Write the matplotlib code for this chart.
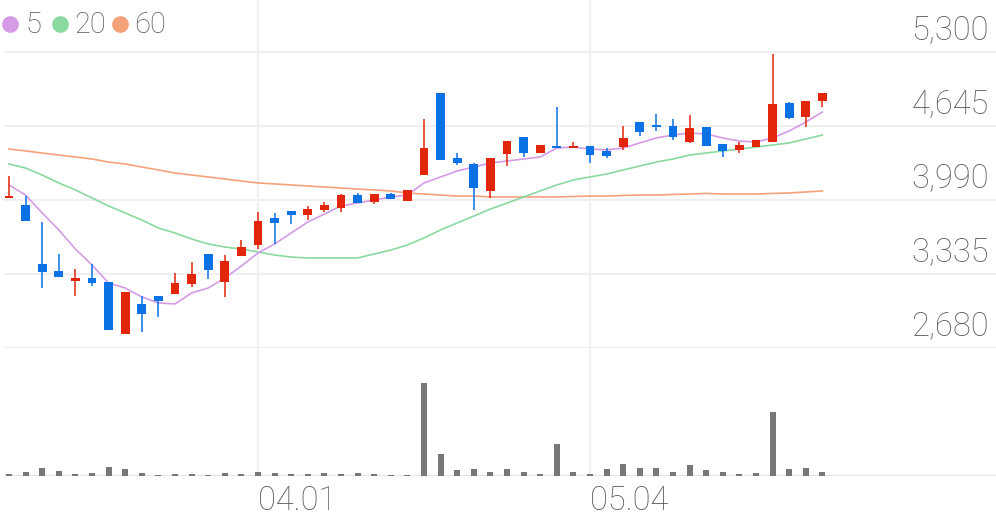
#== Candle chart with MA 5/20/60 and volume ==#

import matplotlib
matplotlib.use('Agg')
from matplotlib import pyplot as plt

#== Data ==#
opens = [4015, 3945, 3424, 3362, 3273, 3300, 3264, 2804, 3070, 3140,
         3158, 3247, 3512, 3264, 3494, 3592, 3831, 3893, 3857, 3902,
         3919, 4034, 3972, 4043, 3981, 4211, 4937, 4362, 4309, 4070,
         4397, 4548, 4406, 4468, 4450, 4468, 4424, 4459, 4680, 4654,
         4645, 4503, 4636, 4486, 4433, 4459, 4503, 4849, 4725, 4866]
highs = [4205, 4025, 3795, 3512, 3380, 3424, 3264, 3176, 3140, 3140,
         3344, 3441, 3512, 3503, 3636, 3884, 3875, 3893, 3937, 3972,
         4043, 4052, 4043, 4052, 4079, 4707, 4937, 4406, 4318, 4362,
         4512, 4548, 4477, 4813, 4503, 4468, 4450, 4645, 4680, 4751,
         4707, 4742, 4636, 4486, 4503, 4521, 5282, 4857, 4866, 4937]
lows = [4010, 3804, 3211, 3309, 3140, 3229, 2839, 2804, 2822, 2955,
        3158, 3220, 3291, 3132, 3494, 3556, 3601, 3778, 3813, 3884,
        3884, 3963, 3955, 3999, 3981, 4211, 4344, 4300, 3902, 4008,
        4291, 4371, 4406, 4450, 4450, 4318, 4362, 4433, 4557, 4601,
        4521, 4495, 4468, 4371, 4406, 4459, 4503, 4707, 4636, 4813]
closes = [4025, 3804, 3353, 3309, 3300, 3255, 2839, 3176, 2981, 3096,
          3255, 3335, 3370, 3450, 3574, 3804, 3787, 3857, 3910, 3946,
          4034, 3963, 4043, 3999, 4079, 4450, 4344, 4318, 4096, 4362,
          4512, 4406, 4477, 4450, 4468, 4388, 4380, 4539, 4592, 4636,
          4548, 4627, 4468, 4424, 4477, 4521, 4840, 4716, 4866, 4937]
volumes = [20000, 40000, 80000, 50000, 20000, 30000, 90000, 70000, 30000, 15000,
           20000, 20000, 15000, 30000, 25000, 40000, 35000, 20000, 20000, 30000,
           25000, 35000, 25000, 15000, 10000, 930000, 220000, 60000, 70000, 45000,
           75000, 45000, 25000, 320000, 45000, 25000, 75000, 120000, 85000, 80000,
           45000, 110000, 60000, 45000, 25000, 30000, 640000, 75000, 80000, 45000]
ma5 = [4123, 4034, 3875, 3725, 3556, 3415, 3255, 3211, 3132, 3078,
       3070, 3167, 3211, 3300, 3406, 3521, 3601, 3698, 3795, 3866,
       3937, 3963, 3990, 4017, 4034, 4141, 4194, 4247, 4282, 4318,
       4335, 4353, 4371, 4450, 4459, 4441, 4433, 4450, 4495, 4539,
       4565, 4583, 4574, 4539, 4512, 4503, 4539, 4601, 4680, 4769]
ma20 = [4309, 4273, 4211, 4141, 4079, 4008, 3937, 3875, 3813, 3742,
        3698, 3645, 3601, 3574, 3556, 3530, 3503, 3485, 3477, 3477,
        3477, 3477, 3512, 3547, 3592, 3654, 3725, 3787, 3848, 3910,
        3963, 4017, 4070, 4123, 4167, 4194, 4220, 4256, 4291, 4326,
        4353, 4388, 4406, 4424, 4441, 4459, 4477, 4495, 4530, 4565]
ma60 = [4441, 4424, 4406, 4388, 4371, 4353, 4326, 4309, 4282, 4256,
        4229, 4211, 4194, 4176, 4158, 4141, 4132, 4123, 4114, 4105,
        4096, 4087, 4079, 4070, 4052, 4043, 4034, 4025, 4025, 4017,
        4017, 4017, 4017, 4017, 4021, 4025, 4025, 4030, 4034, 4034,
        4039, 4043, 4048, 4043, 4043, 4043, 4048, 4052, 4061, 4070]
x_ticks = [15, 35]
x_labels = ['04.01', '05.04']
y_ticks = [5300, 4645, 3990, 3335, 2680]
y_labels = ['5,300', '4,645', '3,990', '3,335', '2,680']

#== Styles ==#
RED = '#e1260b'
BLUE = '#0b72e6'
GRID = '#efefef'
TXT = '#5c5c5c'
plt.rcParams['font.family'] = ['Roboto', 'DejaVu Sans']

W, H = 996, 519
fig = plt.figure(figsize=(W / 100, H / 100), dpi=100)
ax = fig.add_axes([4 / W, (H - 348) / H, 992 / W, 348 / H])
axv = fig.add_axes([4 / W, (H - 476) / H, 992 / W, 128 / H])

n = len(closes)
xlim = (-5 / 16.6, 987 / 16.6)

#== Price panel ==#
for i in range(n):
    o, c = opens[i], closes[i]
    col = RED if c >= o else BLUE
    ax.vlines(i, lows[i], highs[i], color=col, linewidth=1.1, zorder=3)
    body = max(abs(c - o), 16)
    bottom = min(o, c) if abs(c - o) >= 16 else (o + c) / 2 - 8
    ax.bar(i, body, bottom=bottom, width=0.54, color=col, linewidth=0, zorder=4)

xs = list(range(n))
ax.plot(xs, ma60, color='#f5a27a', linewidth=1.2, zorder=2)
ax.plot(xs, ma20, color='#8ad9a0', linewidth=1.2, zorder=2)
ax.plot(xs, ma5, color='#d59be6', linewidth=1.2, zorder=2)

ax.set_xlim(*xlim)
ax.set_ylim(2680, 5300 + 52 * 655 / 74)
for v in y_ticks:
    ax.axhline(v, color=GRID, linewidth=1.6, zorder=0)
for v in x_ticks:
    ax.axvline(v, color=GRID, linewidth=1.6, zorder=0)
for v, lab in zip(y_ticks, y_labels):
    ax.annotate(lab, xy=(1, v), xycoords=('axes fraction', 'data'),
                xytext=(-7, 22), textcoords='offset pixels',
                ha='right', va='center', fontsize=23.5, color=TXT,
                fontweight='light')
ax.set_xticks([])
ax.set_yticks([])
for s in ax.spines.values():
    s.set_visible(False)

#== Legend ==#
leg = [('5', '#d59be6', 10, 25), ('20', '#8ad9a0', 60, 74), ('60', '#f5a27a', 120, 134)]
for lab, col, cx, tx in leg:
    fig.add_artist(plt.Line2D([cx / W], [1 - 24 / H], marker='o', markersize=11,
                              color=col, linestyle='none', transform=fig.transFigure))
    fig.text(tx / W, 1 - 25 / H, lab, ha='left', va='center', fontsize=21,
             color=TXT, fontweight='light')

#== Volume panel ==#
axv.bar(xs, volumes, width=0.36, color='#777777', linewidth=0, zorder=5)
axv.set_xlim(*xlim)
axv.set_ylim(0, 1280000)
for v in x_ticks:
    axv.axvline(v, color=GRID, linewidth=1.6, zorder=0)
axv.axhline(0, color='#e6e6e6', linewidth=2.5, zorder=4)
axv.set_yticks([])
axv.set_xticks([])
for s in axv.spines.values():
    s.set_visible(False)
for v, lab in zip(x_ticks, x_labels):
    axv.annotate(lab, xy=(v, 0), xycoords=('data', 'axes fraction'),
                 xytext=(0, -25), textcoords='offset pixels',
                 ha='left', va='center', fontsize=23.5, color=TXT,
                 fontweight='light')

fig.savefig('out.png', dpi=100, facecolor='white')
